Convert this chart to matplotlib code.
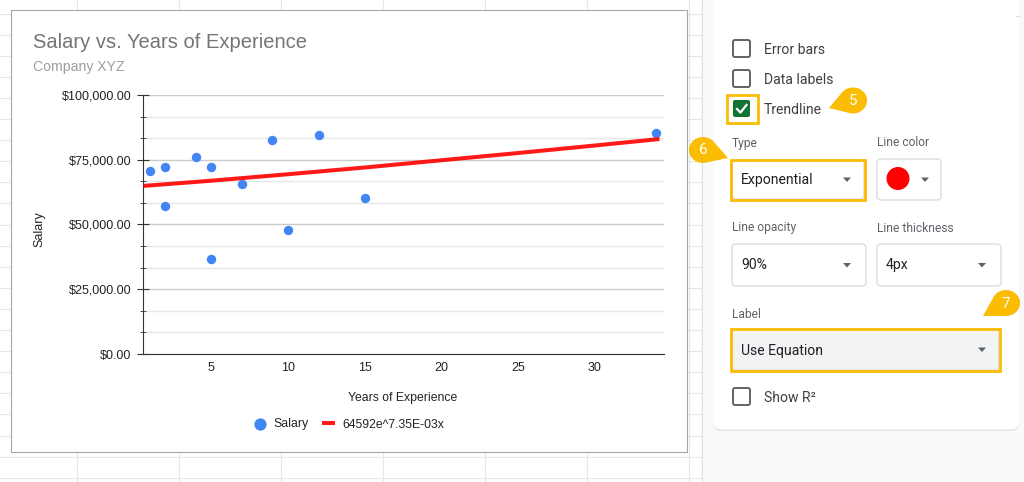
import numpy as np
import matplotlib
matplotlib.use('Agg')
import matplotlib.pyplot as plt
from matplotlib.patches import Rectangle, FancyBboxPatch, Circle, Polygon

# values
years = [1, 2, 2, 4, 5, 5, 7, 9, 10, 12, 15, 34]
salary = [70700, 72200, 57200, 76000, 72200, 36700, 65700, 82600, 47900, 84500, 60200, 85300]
trend_years = [0.6, 5, 10, 15, 20, 25, 30, 34.2]
trend_salary = [64900, 66900, 69400, 72000, 74800, 77600, 80500, 83000]
x_ticks = [5, 10, 15, 20, 25, 30]
y_ticks = [0, 25000, 50000, 75000, 100000]
y_tick_labels = ['$0.00', '$25,000.00', '$50,000.00', '$75,000.00', '$100,000.00']
y_minor = [8333, 16667, 33333, 41667, 58333, 66667, 83333, 91667]
title = 'Salary vs. Years of Experience'
subtitle = 'Company XYZ'
trend_label = '64592e^7.35E-03x'

W, H = 1024, 482
YELLOW = '#fbbc04'
CHART_FONT = 'Liberation Sans'
UI_FONT = 'Roboto'


def px(size):
    # font size in screen pixels to points
    return size * 72 / 100


fig = plt.figure(figsize=(W / 100, H / 100), dpi=100)
bg = fig.add_axes([0, 0, 1, 1])
bg.set_xlim(0, W)
bg.set_ylim(H, 0)
bg.axis('off')

# spreadsheet cells behind the chart
for y in np.arange(13.5, 482, 21.1):
    bg.plot([0, 703], [y, y], color='#e6e6e6', lw=0.8, zorder=1)
for x in [77, 179, 281, 383, 485, 587, 689]:
    bg.plot([x, x], [0, H], color='#e6e6e6', lw=0.8, zorder=1)
bg.plot([702, 702], [0, H], color='#e0e0e0', lw=1, zorder=1)

# chart box
bg.add_patch(Rectangle((10.5, 9.5), 676.5, 442.5, facecolor='white', edgecolor='#a6a6a6', lw=0.8, zorder=2))

# side panel
bg.add_patch(Rectangle((703, 0), 321, H, facecolor='#f8f9fa', edgecolor='none', zorder=2))
bg.add_patch(FancyBboxPatch((713, -20), 306, 451, boxstyle='round,pad=0,rounding_size=8',
                            facecolor='#e3e4e6', edgecolor='none', zorder=3))
bg.add_patch(FancyBboxPatch((713, -20), 306, 449.5, boxstyle='round,pad=0,rounding_size=8',
                            facecolor='white', edgecolor='none', zorder=3))
bg.plot([1016, 1020], [16, 16], color='#e0e0e0', lw=0.8, zorder=4)


def ui_text(x, y, s, size=14, color='#3c4043'):
    bg.text(x, y, s, fontsize=px(size), color=color, family=UI_FONT, va='center', ha='left', zorder=6)


def checkbox(y, checked=False):
    if checked:
        bg.add_patch(FancyBboxPatch((733, y), 17, 17, boxstyle='round,pad=0,rounding_size=2',
                                    facecolor='#137333', edgecolor='none', zorder=5))
        bg.plot([737, 740.5, 746.5], [y + 9, y + 12.5, y + 5], color='white', lw=1.6, zorder=6)
    else:
        bg.add_patch(FancyBboxPatch((733, y), 17, 17, boxstyle='round,pad=0,rounding_size=2',
                                    facecolor='white', edgecolor='#5f6368', lw=1.4, zorder=5))


def arrow(x, y):
    bg.add_patch(Polygon([[x - 4, y - 2], [x + 4, y - 2], [x, y + 2.5]], facecolor='#5f6368', edgecolor='none',
                         zorder=6))


def dropdown(x0, y0, x1, y1, s=None, arrow_x=None, face='white', text_y=None):
    bg.add_patch(FancyBboxPatch((x0, y0), x1 - x0, y1 - y0, boxstyle='round,pad=0,rounding_size=4',
                                facecolor=face, edgecolor='#dadce0', lw=1, zorder=4))
    mid = (y0 + y1) / 2
    if s:
        ui_text(x0 + 9, mid if text_y is None else text_y, s, color='#202124')
    arrow((x1 - 19) if arrow_x is None else arrow_x, mid)


def highlight(x0, y0, x1, y1):
    bg.add_patch(Rectangle((x0, y0), x1 - x0, y1 - y0, facecolor='none', edgecolor=YELLOW, lw=2, zorder=7))


def balloon(cx, cy, r, tip, s):
    ang = np.arctan2(tip[1] - cy, tip[0] - cx)
    t = np.linspace(ang + 0.9, ang + 2 * np.pi - 0.9, 40)
    pts = np.column_stack([cx + 1.08 * r * np.cos(t), cy + r * np.sin(t)])
    bg.add_patch(Polygon(np.vstack([pts, [tip]]), closed=True, facecolor=YELLOW, edgecolor='none', zorder=8))
    bg.text(cx, cy + 0.5, s, color='white', fontsize=px(15), family=UI_FONT, ha='center', va='center', zorder=9)


checkbox(40)
checkbox(70)
checkbox(100, checked=True)
checkbox(388)
ui_text(764, 49.5, 'Error bars')
ui_text(764, 79.5, 'Data labels')
ui_text(764, 110.5, 'Trendline')
ui_text(764, 397.5, 'Show R²')

ui_text(732, 143, 'Type', 12, '#5f6368')
ui_text(877, 142, 'Line color', 12, '#5f6368')
ui_text(732, 228, 'Line opacity', 12, '#5f6368')
ui_text(877, 228, 'Line thickness', 12, '#5f6368')
ui_text(732, 314.5, 'Label', 12, '#5f6368')

dropdown(732, 160, 864, 199, 'Exponential', 847, text_y=180)
dropdown(877, 159, 941, 200, None, 925)
bg.add_patch(Circle((898, 178.5), 11.5, facecolor='#ff0000', edgecolor='none', zorder=6))
dropdown(732, 244, 866, 286, '90%', 847, text_y=265)
dropdown(877, 244, 1001, 286, '4px', 982, text_y=265)
dropdown(732, 329, 999, 370, 'Use Equation', 982, face='#f1f3f4', text_y=351)

highlight(727, 94.5, 757.5, 123)
highlight(730.5, 159.5, 864.5, 199.5)
highlight(730.5, 329, 1000, 370.5)

balloon(853, 100.5, 13, (829, 108), '5')
balloon(703, 150, 13, (728, 158), '6')
balloon(1006, 303, 13, (983, 316), '7')

# the chart itself
ax = fig.add_axes([143 / W, 1 - 354 / H, 521 / W, 259 / H])
ax.patch.set_alpha(0)
ax.set_xlim(0.57, 34.5)
ax.set_ylim(0, 100000)
ax.set_xticks(x_ticks)
ax.set_yticks(y_ticks)
ax.set_yticklabels(y_tick_labels)
ax.set_yticks(y_minor, minor=True)
ax.grid(True, which='major', axis='y', color='#cccccc', lw=1)
ax.grid(True, which='minor', axis='y', color='#e8e8e8', lw=1)
ax.set_axisbelow(True)
for side in ['top', 'right']:
    ax.spines[side].set_visible(False)
ax.spines['left'].set_color('#333333')
ax.spines['bottom'].set_color('#333333')
ax.tick_params(axis='x', length=0, pad=6, labelsize=px(12.5), labelcolor='#222222')
ax.tick_params(axis='y', which='major', direction='inout', length=8.5, color='#333333', pad=4,
               labelsize=px(12.5), labelcolor='#222222')
ax.tick_params(axis='y', which='minor', direction='inout', length=4.5, color='#333333')
for lab in ax.get_xticklabels() + ax.get_yticklabels():
    lab.set_family(CHART_FONT)

sc = ax.scatter(years, salary, s=46, color='#4285f4', linewidths=0, zorder=3, clip_on=False, label='Salary')
ln, = ax.plot(trend_years, trend_salary, color='red', alpha=0.9, lw=2.9, solid_capstyle='butt', zorder=4,
              label=trend_label)

fig.text(33 / W, 1 - 42.5 / H, title, fontsize=px(20.15), color='#757575', family=CHART_FONT, va='center')
fig.text(33 / W, 1 - 67 / H, subtitle, fontsize=px(14), color='#9e9e9e', family=CHART_FONT, va='center')
fig.text(403 / W, 1 - 398 / H, 'Years of Experience', fontsize=px(12.3), color='#222222', family=CHART_FONT,
         ha='center', va='center')
fig.text(39 / W, 1 - 229 / H, 'Salary', fontsize=px(12.5), color='#222222', family=CHART_FONT, rotation=90,
         ha='center', va='center')

leg = fig.legend(handles=[sc, ln], loc='center', bbox_to_anchor=(349 / W, 1 - 424.5 / H), ncol=2, frameon=False,
                 prop={'family': CHART_FONT, 'size': px(12.2)}, handlelength=1.0, handletextpad=0.65,
                 columnspacing=1.1, markerscale=1.3, labelcolor='#222222')

fig.savefig('out.png', dpi=100)
